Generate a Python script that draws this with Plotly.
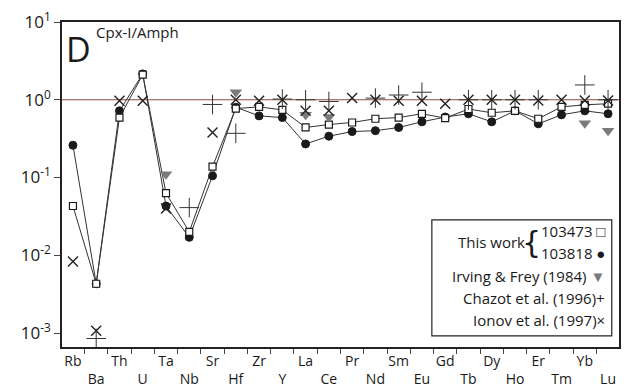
import plotly.graph_objects as go

elements = ["Rb", "Ba", "Th", "U", "Ta", "Nb", "Sr", "Hf", "Zr", "Y", "La", "Ce",
            "Pr", "Nd", "Sm", "Eu", "Gd", "Tb", "Dy", "Ho", "Er", "Tm", "Yb", "Lu"]

# This work 103473 (open squares)
s103473 = [0.043, 0.0043, 0.59, 2.1, 0.063, 0.020, 0.138, 0.77, 0.81, 0.74, 0.44, 0.48,
           0.51, 0.57, 0.59, 0.66, 0.58, 0.76, 0.68, 0.72, 0.57, 0.81, 0.86, 0.89]
# This work 103818 (filled circles)
s103818 = [0.26, 0.0043, 0.72, 2.15, 0.043, 0.017, 0.105, 0.80, 0.62, 0.59, 0.27, 0.34,
           0.39, 0.40, 0.44, 0.52, 0.60, 0.66, 0.52, 0.72, 0.49, 0.64, 0.72, 0.66]
# Irving & Frey (1984)
irving_el = ["Ta", "Hf", "La", "Ce", "Yb", "Lu"]
irving_val = [0.11, 1.25, 0.64, 0.60, 0.50, 0.40]
# Chazot et al. (1996)
chazot_el = ["Ba", "Nb", "Sr", "Hf", "Y", "La", "Ce", "Nd", "Sm", "Eu",
             "Tb", "Dy", "Ho", "Er", "Yb", "Lu"]
chazot_val = [0.00085, 0.041, 0.87, 0.37, 1.02, 1.0, 0.95, 1.05, 1.15, 1.25,
              1.0, 1.0, 1.0, 1.0, 1.55, 1.0]
# Ionov et al. (1997)
ionov_el = ["Rb", "Ba", "Th", "U", "Ta", "Sr", "Hf", "Zr", "Y", "La", "Ce", "Pr", "Nd",
            "Sm", "Eu", "Gd", "Tb", "Dy", "Ho", "Er", "Tm", "Yb", "Lu"]
ionov_val = [0.0083, 0.00107, 0.97, 0.97, 0.040, 0.38, 1.0, 0.97, 1.0, 0.72, 0.72, 1.05, 1.0,
             0.97, 0.97, 0.89, 1.0, 1.0, 1.0, 0.98, 1.0, 0.98, 0.98]

ytick_vals = [0.001, 0.01, 0.1, 1, 10]
ytick_text = ["10<sup>-3</sup>", "10<sup>-2</sup>", "10<sup>-1</sup>", "10<sup>0</sup>", "10<sup>1</sup>"]

idx = {e: i for i, e in enumerate(elements)}
xs = list(range(len(elements)))
FONT = "Open Sans"
INK = "#1a1a1a"

fig = go.Figure()

fig.add_trace(go.Scatter(x=xs, y=s103818, mode="lines+markers",
                         line=dict(color="#333", width=1),
                         marker=dict(symbol="circle", size=8, color=INK,
                                     line=dict(color=INK, width=1))))
fig.add_trace(go.Scatter(x=xs, y=s103473, mode="lines+markers",
                         line=dict(color="#333", width=1),
                         marker=dict(symbol="square", size=7, color="white",
                                     line=dict(color=INK, width=1.2))))
fig.add_trace(go.Scatter(x=[idx[e] for e in irving_el], y=irving_val, mode="markers",
                         marker=dict(symbol="triangle-down", size=11, color="#7a7a7a",
                                     line=dict(width=0))))
fig.add_trace(go.Scatter(x=[idx[e] for e in chazot_el], y=chazot_val, mode="markers",
                         marker=dict(symbol="cross-thin-open", size=14, color="#333",
                                     line=dict(color="#333", width=1))))
fig.add_trace(go.Scatter(x=[idx[e] for e in ionov_el], y=ionov_val, mode="markers",
                         marker=dict(symbol="x-thin-open", size=10, color="#222",
                                     line=dict(color="#222", width=1.4))))

ticktext = [e if i % 2 == 0 else "<br>" + e for i, e in enumerate(elements)]

fig.update_xaxes(range=[-0.47, len(elements) - 0.53], tickmode="array", tickvals=xs,
                 ticktext=ticktext, ticks="", tickangle=0, automargin=False,
                 showgrid=False, zeroline=False,
                 showline=True, linecolor="#222", linewidth=1.5, mirror=True,
                 tickfont=dict(family=FONT, size=14, color=INK),
                 minor=dict(tickmode="array", tickvals=[i + 0.5 for i in xs[:-1]],
                            ticks="outside", ticklen=5, tickcolor="#444", tickwidth=1,
                            showgrid=False))
fig.update_yaxes(type="log", range=[-3.18, 1.0], tickmode="array", tickvals=ytick_vals,
                 ticktext=ytick_text, ticks="outside", ticklen=6, tickcolor="#444",
                 automargin=False,
                 showgrid=False, zeroline=False, showline=True, linecolor="#222",
                 linewidth=1.5, mirror=True,
                 tickfont=dict(family=FONT, size=17, color=INK))

fig.add_shape(type="line", xref="paper", x0=0, x1=1, yref="y", y0=1, y1=1,
              line=dict(color="#8e4a3c", width=1.2), layer="below")

# panel label
fig.add_annotation(xref="paper", yref="paper", x=0.003, y=0.995, xanchor="left", yanchor="top",
                   text="D", showarrow=False, font=dict(family=FONT, size=34, color=INK))
fig.add_annotation(xref="paper", yref="paper", x=0.058, y=1.005, xanchor="left", yanchor="top",
                   text="Cpx-I/Amph", showarrow=False, font=dict(family=FONT, size=15, color=INK))

# legend box
fig.add_shape(type="rect", xref="paper", yref="paper", x0=0.664, x1=0.987, y0=0.034, y1=0.391,
              line=dict(color="#222", width=1.2), fillcolor="white", layer="above")
lg = dict(family=FONT, size=15, color=INK)
for txt, yy in [("103473 □", 0.356), ("103818 ●", 0.288),
                ("Irving &amp; Frey (1984) <span style='color:#7a7a7a'>▼</span>", 0.218),
                ("Chazot et al. (1996)+", 0.151), ("Ionov et al. (1997)×", 0.083)]:
    fig.add_annotation(xref="paper", yref="paper", x=0.979, y=yy, xanchor="right", yanchor="middle",
                       text=txt, showarrow=False, font=lg)
fig.add_annotation(xref="paper", yref="paper", x=0.834, y=0.322, xanchor="right", yanchor="middle",
                   text="This work", showarrow=False, font=lg)
fig.add_annotation(xref="paper", yref="paper", x=0.843, y=0.322, xanchor="center", yanchor="middle",
                   text="{", showarrow=False, font=dict(family="DejaVu Sans", size=30, color=INK))

fig.update_layout(width=624, height=388, margin=dict(l=62, r=5, t=22, b=41),
                  plot_bgcolor="white", paper_bgcolor="white", showlegend=False)

fig.write_html("out.html")
